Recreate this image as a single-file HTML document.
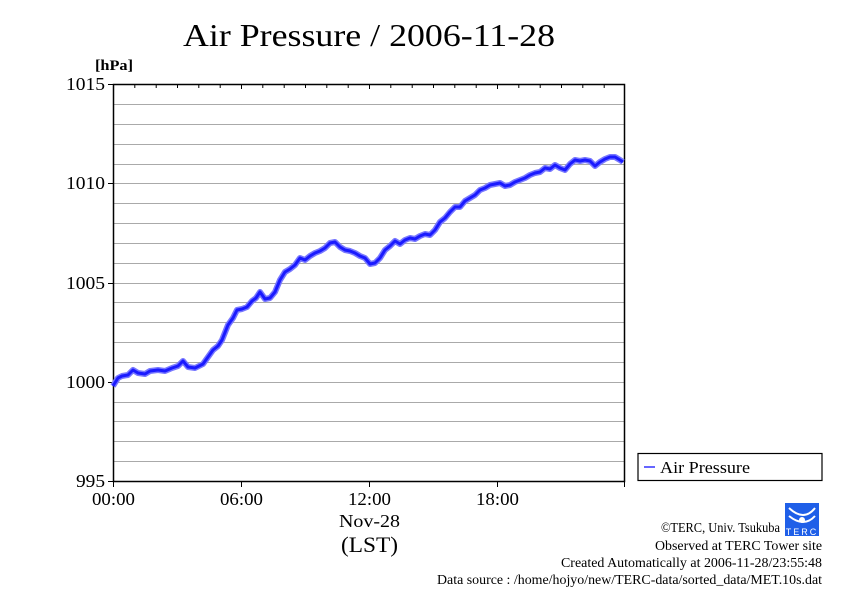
<!DOCTYPE html>
<html><head><meta charset="utf-8"><style>
html,body{margin:0;padding:0;background:#fff;}
svg{display:block;font-family:"Liberation Serif",serif;}
</style></head><body>
<svg width="842" height="595" viewBox="0 0 842 595" xmlns="http://www.w3.org/2000/svg">
<rect width="842" height="595" fill="#fff"/>
<text x="183" y="46" font-size="32" textLength="372" lengthAdjust="spacingAndGlyphs">Air Pressure / 2006-11-28</text>
<text x="95" y="70" font-size="15" font-weight="bold" textLength="38" lengthAdjust="spacingAndGlyphs">[hPa]</text>
<g stroke="#aaa" stroke-width="1">
<line x1="113" x2="625" y1="104.5" y2="104.5"/><line x1="113" x2="625" y1="124.5" y2="124.5"/><line x1="113" x2="625" y1="144.5" y2="144.5"/><line x1="113" x2="625" y1="164.5" y2="164.5"/>
<line x1="113" x2="625" y1="183.5" y2="183.5"/><line x1="113" x2="625" y1="203.5" y2="203.5"/><line x1="113" x2="625" y1="223.5" y2="223.5"/><line x1="113" x2="625" y1="243.5" y2="243.5"/><line x1="113" x2="625" y1="263.5" y2="263.5"/>
<line x1="113" x2="625" y1="283.5" y2="283.5"/><line x1="113" x2="625" y1="302.5" y2="302.5"/><line x1="113" x2="625" y1="322.5" y2="322.5"/><line x1="113" x2="625" y1="342.5" y2="342.5"/><line x1="113" x2="625" y1="362.5" y2="362.5"/>
<line x1="113" x2="625" y1="382.5" y2="382.5"/><line x1="113" x2="625" y1="402.5" y2="402.5"/><line x1="113" x2="625" y1="421.5" y2="421.5"/><line x1="113" x2="625" y1="441.5" y2="441.5"/><line x1="113" x2="625" y1="461.5" y2="461.5"/>
</g>
<rect x="113.5" y="84.5" width="511" height="397" fill="none" stroke="#000" stroke-width="1.5"/>
<g stroke="#000" stroke-width="1">
<line x1="108" x2="113" y1="84.5" y2="84.5"/><line x1="108" x2="113" y1="183.5" y2="183.5"/><line x1="108" x2="113" y1="283.5" y2="283.5"/><line x1="108" x2="113" y1="382.5" y2="382.5"/><line x1="108" x2="113" y1="481.5" y2="481.5"/>
</g>
<g stroke="#000" stroke-width="1">
<line x1="134.8" x2="134.8" y1="84" y2="88"/><line x1="156.2" x2="156.2" y1="84" y2="88"/><line x1="177.5" x2="177.5" y1="84" y2="88"/><line x1="198.8" x2="198.8" y1="84" y2="88"/><line x1="220.2" x2="220.2" y1="84" y2="88"/><line x1="241.5" x2="241.5" y1="84" y2="89"/>
<line x1="262.8" x2="262.8" y1="84" y2="88"/><line x1="284.2" x2="284.2" y1="84" y2="88"/><line x1="305.5" x2="305.5" y1="84" y2="88"/><line x1="326.8" x2="326.8" y1="84" y2="88"/><line x1="348.2" x2="348.2" y1="84" y2="88"/><line x1="369.5" x2="369.5" y1="84" y2="89"/>
<line x1="390.8" x2="390.8" y1="84" y2="88"/><line x1="412.2" x2="412.2" y1="84" y2="88"/><line x1="433.5" x2="433.5" y1="84" y2="88"/><line x1="454.8" x2="454.8" y1="84" y2="88"/><line x1="476.2" x2="476.2" y1="84" y2="88"/><line x1="497.5" x2="497.5" y1="84" y2="89"/>
<line x1="518.8" x2="518.8" y1="84" y2="88"/><line x1="540.2" x2="540.2" y1="84" y2="88"/><line x1="561.5" x2="561.5" y1="84" y2="88"/><line x1="582.8" x2="582.8" y1="84" y2="88"/><line x1="604.2" x2="604.2" y1="84" y2="88"/>
</g>
<g stroke="#000"><line x1="113.5" x2="113.5" y1="481" y2="487"/><line x1="241.5" x2="241.5" y1="481" y2="487"/><line x1="369.5" x2="369.5" y1="481" y2="487"/><line x1="497.5" x2="497.5" y1="481" y2="487"/><line x1="624.5" x2="624.5" y1="481" y2="487"/></g>
<g font-size="18">
<text x="66" y="90" textLength="39" lengthAdjust="spacingAndGlyphs">1015</text><text x="66" y="189" textLength="39" lengthAdjust="spacingAndGlyphs">1010</text><text x="66" y="289" textLength="39" lengthAdjust="spacingAndGlyphs">1005</text><text x="66" y="388" textLength="39" lengthAdjust="spacingAndGlyphs">1000</text><text x="76" y="487" textLength="29" lengthAdjust="spacingAndGlyphs">995</text>
</g>
<g font-size="18">
<text x="92" y="505" textLength="43" lengthAdjust="spacingAndGlyphs">00:00</text><text x="220" y="505" textLength="43" lengthAdjust="spacingAndGlyphs">06:00</text><text x="348" y="505" textLength="43" lengthAdjust="spacingAndGlyphs">12:00</text><text x="476" y="505" textLength="43" lengthAdjust="spacingAndGlyphs">18:00</text>
<text x="339" y="527" textLength="61" lengthAdjust="spacingAndGlyphs">Nov-28</text>
</g>
<text x="341" y="552" font-size="22" textLength="57" lengthAdjust="spacingAndGlyphs">(LST)</text>
<g fill="none" stroke-linejoin="round">
<polyline stroke="#7777ff" stroke-width="6" points="113,386 118,378 122,376 128,375 133,370 138,373 145,374 150,371 158,370 165,371 172,368 178,366 183,361 188,367 195,368 203,364 208,357 213,350 218,346 222,340 228,325 233,318 237,310 242,309 247,307 252,301 256,298 260,292 265,299 270,298 275,292 280,280 285,272 290,269 295,265 300,258 305,260 310,256 315,253 320,251 325,248 330,243 335,242 340,247 345,250 350,251 355,253 360,256 365,258 370,264 375,263 380,258 385,250 390,246 395,241 400,244 405,240 410,238 415,239 420,236 425,234 430,235 435,230 440,222 445,218 450,212 455,207 460,207 465,201 470,198 475,195 480,190 485,188 490,185 495,184 500,183 505,186 510,185 515,182 520,180 525,178 530,175 535,173 540,172 545,168 550,169 555,165 560,168 565,170 570,164 575,160 580,161 585,160 590,161 595,166 600,162 605,159 610,157 615,157 620,160 623,162"/>
<polyline stroke="#1a1aff" stroke-width="3" points="113,386 118,378 122,376 128,375 133,370 138,373 145,374 150,371 158,370 165,371 172,368 178,366 183,361 188,367 195,368 203,364 208,357 213,350 218,346 222,340 228,325 233,318 237,310 242,309 247,307 252,301 256,298 260,292 265,299 270,298 275,292 280,280 285,272 290,269 295,265 300,258 305,260 310,256 315,253 320,251 325,248 330,243 335,242 340,247 345,250 350,251 355,253 360,256 365,258 370,264 375,263 380,258 385,250 390,246 395,241 400,244 405,240 410,238 415,239 420,236 425,234 430,235 435,230 440,222 445,218 450,212 455,207 460,207 465,201 470,198 475,195 480,190 485,188 490,185 495,184 500,183 505,186 510,185 515,182 520,180 525,178 530,175 535,173 540,172 545,168 550,169 555,165 560,168 565,170 570,164 575,160 580,161 585,160 590,161 595,166 600,162 605,159 610,157 615,157 620,160 623,162"/>
</g>
<rect x="638" y="453.5" width="184" height="27" fill="#fff" stroke="#000" stroke-width="1.2"/>
<line x1="644" x2="655" y1="467" y2="467" stroke="#3333ff" stroke-width="1.5"/>
<text x="660" y="473" font-size="17" textLength="90" lengthAdjust="spacingAndGlyphs">Air Pressure</text>
<rect x="785" y="503" width="34" height="33" fill="#1f5fe8"/>
<path d="M789,508 q15,14 26,0 M789,516 q15,12 26,0" stroke="#fff" stroke-width="2" fill="none"/>
<circle cx="802" cy="520" r="3" fill="#fff"/>
<text x="802" y="535" font-size="9" fill="#fff" text-anchor="middle" font-family="Liberation Sans,sans-serif" letter-spacing="2">TERC</text>
<g font-size="14">
<text x="661" y="532" textLength="119" lengthAdjust="spacingAndGlyphs">©TERC, Univ. Tsukuba</text>
<text x="655" y="550" textLength="167" lengthAdjust="spacingAndGlyphs">Observed at TERC Tower site</text>
<text x="561" y="567" textLength="261" lengthAdjust="spacingAndGlyphs">Created Automatically at 2006-11-28/23:55:48</text>
<text x="437" y="584" textLength="385" lengthAdjust="spacingAndGlyphs">Data source : /home/hojyo/new/TERC-data/sorted_data/MET.10s.dat</text>
</g>
</svg>
</body></html>
